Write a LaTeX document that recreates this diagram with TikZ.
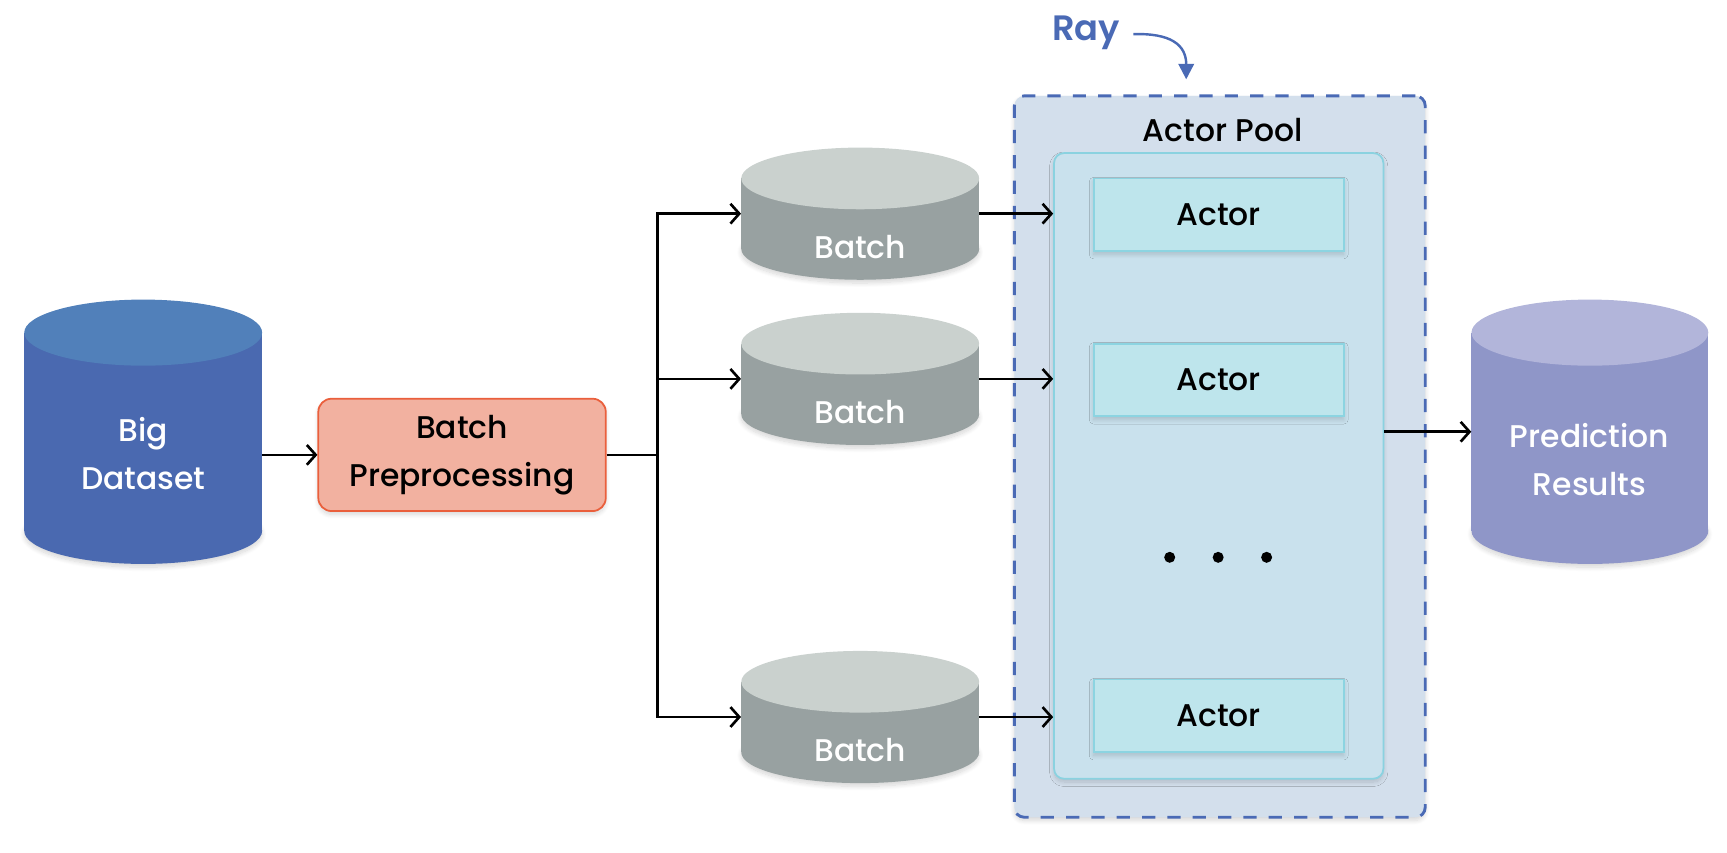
\documentclass[tikz,border=0pt]{standalone}
\usepackage{fontspec}
\setmainfont{Poppins}[UprightFont=* Medium, BoldFont=* SemiBold]
\usetikzlibrary{arrows.meta,shadows.blur}

\definecolor{bigtop}{HTML}{5180BA}
\definecolor{bigbody}{HTML}{4A69B0}
\definecolor{prepfill}{HTML}{F2B1A0}
\definecolor{prepline}{HTML}{EA5F3C}
\definecolor{batchtop}{HTML}{CAD1CE}
\definecolor{batchbody}{HTML}{98A1A1}
\definecolor{rayfill}{HTML}{D3DFEC}
\definecolor{rayblue}{HTML}{4A6AB5}
\definecolor{poolfill}{HTML}{C9E1ED}
\definecolor{poolline}{HTML}{8AD2E0}
\definecolor{actorfill}{HTML}{BEE5EC}
\definecolor{actorline}{HTML}{8CD4E1}
\definecolor{predtop}{HTML}{B2B5DA}
\definecolor{predbody}{HTML}{8F96C8}

\tikzset{
  lbl/.style={font=\fontsize{28.5}{44}\selectfont, align=center, inner sep=0pt},
  whitelbl/.style={lbl, text=white},
  softshadow/.style={blur shadow={shadow xshift=0pt, shadow yshift=-3pt,
      shadow blur radius=4pt, shadow blur steps=10, shadow opacity=16,
      shadow blur extra rounding=0pt}},
  conn/.style={line width=2.4pt, -{Straight Barb[length=8pt,width=18pt,line width=2.4pt]}},
  prepbox/.style={lbl, draw=prepline, fill=prepfill, line width=1.6pt,
      rounded corners=12pt, minimum width=261pt, minimum height=102pt, softshadow},
  raybox/.style={draw=rayblue, fill=rayfill, line width=2.6pt,
      dash pattern=on 12pt off 11pt, rounded corners=9pt, softshadow},
  poolbox/.style={draw=poolline, fill=poolfill, line width=1.6pt,
      rounded corners=9pt, softshadow},
  actorbox/.style={lbl, draw=actorline, fill=actorfill, line width=1.6pt,
      minimum width=227pt, minimum height=66pt, softshadow},
  dot/.style={circle, fill=black, inner sep=0pt, minimum size=10pt},
}

% database drum: name, centre x, centre y, half width, half height, end radius, top colour, body colour
\newcommand\drawdrum[8]{%
  \node[minimum width={2*#4 pt}, minimum height={2*#5 pt}, inner sep=0pt] (#1) at (#2,#3) {};
  \fill[#8, softshadow] ({#2},{#3+#5-#6}) ellipse [x radius=#4, y radius=#6];
  \fill[#8] ({#2-#4},{#3-#5+#6}) rectangle ({#2+#4},{#3+#5-#6});
  \fill[#7] ({#2},{#3-#5+#6}) ellipse [x radius=#4, y radius=#6];
}

\begin{document}
\begin{tikzpicture}[x=1pt, y=-1pt]
\useasboundingbox (0,0) rectangle (1568,774);

% input data
\drawdrum{big}{130}{392}{108}{120}{30}{bigtop}{bigbody}
\node[whitelbl] (bigtxt) at (130,412) {Big\\Dataset};

\node[prepbox] (prep) at (419.5,413) {Batch\\Preprocessing};

% batches
\drawdrum{b1}{781}{194}{108}{60}{28}{batchtop}{batchbody}
\drawdrum{b2}{781}{344}{108}{60}{28}{batchtop}{batchbody}
\drawdrum{b3}{781}{651}{108}{60}{28}{batchtop}{batchbody}
\node[whitelbl] (b1txt) at (781,224) {Batch};
\node[whitelbl] (b2txt) at (781,374) {Batch};
\node[whitelbl] (b3txt) at (781,681) {Batch};

% Ray cluster with the actor pool
\node[raybox, minimum width=373pt, minimum height=655pt] (ray) at (1107.5,414.5) {};
\node[lbl] (pooltxt) at (1110,118) {Actor Pool};
\node[poolbox, minimum width=299pt, minimum height=568pt] (pool) at (1106.5,423) {};
\node[actorbox] (a1) at (1106.5,195) {Actor};
\node[actorbox] (a2) at (1106.5,345) {Actor};
\node[actorbox] (a3) at (1106.5,650) {Actor};
\node[dot] (d1) at (1062,506) {};
\node[dot] (d2) at (1106,506) {};
\node[dot] (d3) at (1150,506) {};

% results
\drawdrum{pred}{1443.5}{392}{107.5}{120}{30}{predtop}{predbody}
\node[whitelbl] (predtxt) at (1443,417) {Prediction\\Results};

% Ray label
\node[font=\fontsize{32}{36}\selectfont\bfseries, text=rayblue, inner sep=0pt] (raytxt) at (986,30) {Ray};
\coordinate (raytip) at (1077,72);
\draw[rayblue, line width=2.2pt, -{Triangle[length=14pt,width=14pt]}]
  ([xshift=12pt,yshift=-1pt]raytxt.east) .. controls (1062,30) and (1077,40) .. (raytip);

% connectors
\coordinate (fork) at (597,413);
\draw[conn] (prep.west -| big.east) -- (prep.west);
\draw[line width=2.4pt] (prep.east) -- (fork);
\draw[conn] (fork) |- (b1.west);
\draw[conn] (fork) |- (b2.west);
\draw[conn] (fork) |- (b3.west);
\draw[conn] (b1.east) -- (b1.east -| pool.west);
\draw[conn] (b2.east) -- (b2.east -| pool.west);
\draw[conn] (b3.east) -- (b3.east -| pool.west);
\draw[conn] (pred.west -| pool.east) -- (pred.west);
\end{tikzpicture}
\end{document}
